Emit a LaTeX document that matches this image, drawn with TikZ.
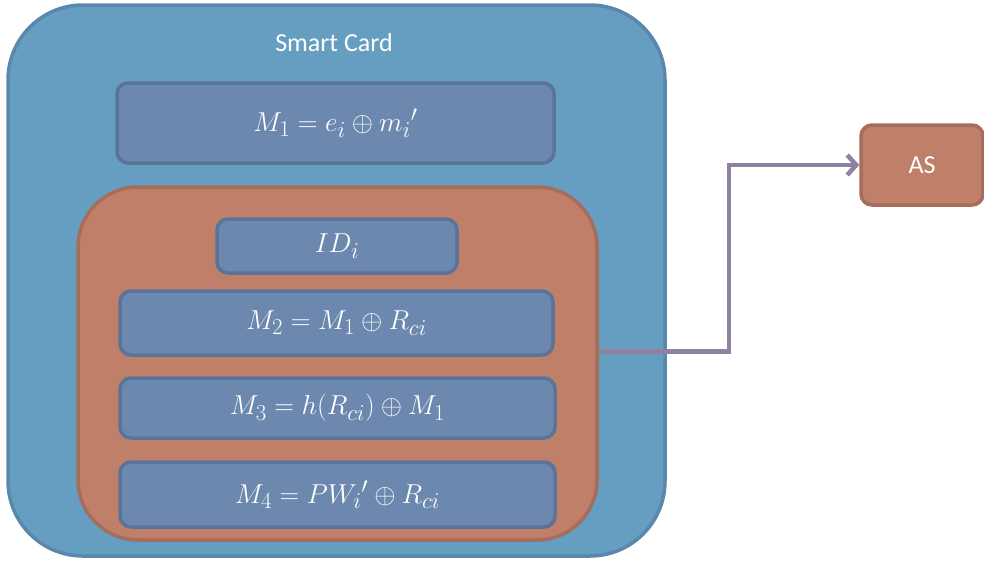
\documentclass[tikz,border=0pt]{standalone}
\usepackage{graphicx}
\usepackage{fontspec}
\setmainfont{Carlito}
\usetikzlibrary{arrows.meta}
\definecolor{cardfill}{HTML}{659EC0}
\definecolor{carddraw}{HTML}{5A88AC}
\definecolor{itemfill}{HTML}{6C88AE}
\definecolor{itemdraw}{HTML}{5A7399}
\definecolor{zonefill}{HTML}{C07F68}
\definecolor{zonedraw}{HTML}{A56D5B}
\definecolor{linkcol}{HTML}{8E82A0}
% formulas set at 24.88pt and enlarged slightly
\newcommand{\formula}[1]{\scalebox{1.1}{$#1$}}
\begin{document}
\begin{tikzpicture}[x=1pt,y=-1pt,
  card/.style={draw=carddraw,fill=cardfill,line width=3.5pt,rounded corners=75pt,inner sep=0pt},
  zone/.style={draw=zonedraw,fill=zonefill,line width=3.5pt,rounded corners=60pt,inner sep=0pt},
  item/.style={draw=itemdraw,fill=itemfill,line width=3.5pt,rounded corners=11pt,inner sep=0pt,
    text=white,font=\fontsize{24.88}{30}\selectfont},
  server/.style={draw=zonedraw,fill=zonefill,line width=3.5pt,rounded corners=11pt,inner sep=0pt,
    text=white,font=\fontsize{26}{30}\selectfont},
  title/.style={text=white,font=\fontsize{26}{30}\selectfont,inner sep=0pt},
  link/.style={draw=linkcol,line width=4.5pt,-{Straight Barb[length=9pt,width=20pt,line width=4.5pt]}}]
\useasboundingbox (0,0) rectangle (984,560);
% smart card body
\node[card,minimum width=657pt,minimum height=551pt] (card) at (336.5,280.5) {};
\node[title] (cardtitle) at (334,43) {Smart Card};
\node[item,minimum width=437pt,minimum height=80pt] (m1) at (335.5,123) {\formula{M_1 = e_i \oplus {m_i}'}};
% protected zone
\node[zone,minimum width=519pt,minimum height=353pt] (zone) at (337.5,363.5) {};
\node[item,minimum width=240pt,minimum height=54pt] (id) at (337,246) {\formula{ID_i}};
\node[item,minimum width=433pt,minimum height=64pt] (m2) at (336.5,323) {\formula{M_2 = M_1 \oplus R_{ci}}};
\node[item,minimum width=435pt,minimum height=60pt] (m3) at (337.5,408) {\formula{M_3 = h(R_{ci}) \oplus M_1}};
\node[item,minimum width=435pt,minimum height=65pt] (m4) at (337.5,494.5) {\formula{M_4 = {PW_i}' \oplus R_{ci}}};
% authentication server
\node[server,minimum width=122pt,minimum height=80pt] (as) at (922,165) {AS};
% message to the server
\draw[link] ([yshift=12pt]zone.east) -- ++(130,0) |- (as.west);
\end{tikzpicture}
\end{document}
